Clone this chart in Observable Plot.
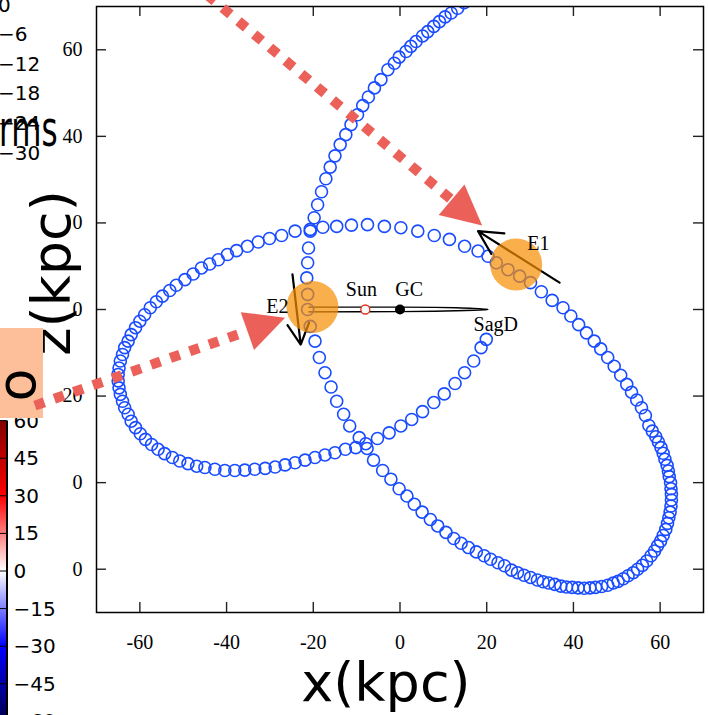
<!DOCTYPE html>
<html>
<head>
<meta charset="utf-8">
<script src="https://cdn.jsdelivr.net/npm/d3@7"></script>
<script src="https://cdn.jsdelivr.net/npm/@observablehq/plot@0.6"></script>
<style>
  html, body { margin: 0; padding: 0; background: white; }
  #fig { position: relative; width: 708px; height: 715px; overflow: hidden; }
  #fig > svg { position: absolute; left: 0; top: 0; }
</style>
</head>
<body>
<div id="fig"></div>
<script>
// Sgr orbit projected on the x–z plane (kpc), in time order
const orbitX = [14.8, 13.3, 11.8, 10.4, 9.1, 7.8, 6.4, 5.2, 3.7, 2.5,
  1.4, -0.2, -1.3, -2.8, -4.4, -5.9, -7.3, -8.6, -9.8, -11.3,
  -12.5, -13.8, -15.0, -16.1, -17.1, -18.1, -19.0, -19.8, -20.7, -21.1,
  -21.3, -21.5, -21.3, -21.3, -20.7, -19.6, -18.6, -17.3, -15.9, -14.6,
  -13.0, -11.6, -9.4, -7.6, -6.1, -4.0, -2.1, -0.2, 1.6, 3.3,
  5.1, 7.0, 8.7, 10.6, 12.4, 14.1, 15.8, 17.6, 19.4, 20.9,
  22.6, 24.1, 25.7, 27.1, 28.6, 30.1, 31.7, 33.0, 34.3, 35.7,
  37.1, 38.4, 39.7, 41.1, 42.5, 43.8, 45.1, 46.5, 47.9, 49.2,
  50.3, 51.5, 52.6, 53.8, 54.8, 55.9, 56.9, 57.9, 58.7, 59.4,
  60.1, 60.7, 61.3, 61.7, 62.0, 62.3, 62.5, 62.6, 62.6, 62.5,
  62.4, 62.1, 61.9, 61.6, 61.1, 60.7, 60.2, 59.6, 59.0, 58.2,
  57.4, 56.6, 55.7, 54.6, 53.4, 52.3, 50.9, 49.4, 47.9, 46.3,
  44.8, 43.0, 41.2, 39.4, 37.6, 35.1, 32.6, 30.1, 27.6, 24.9,
  22.2, 20.3, 18.0, 14.9, 11.4, 7.9, 4.1, 0.2, -3.6, -7.5,
  -11.2, -14.6, -17.8, -20.7, -24.2, -27.3, -30.1, -32.7, -35.2, -37.7,
  -39.8, -41.9, -43.9, -45.8, -47.7, -49.6, -51.6, -53.1, -54.8, -56.2,
  -57.6, -58.9, -60.0, -61.0, -62.0, -62.7, -63.5, -64.0, -64.5, -64.8,
  -65.0, -65.0, -64.8, -64.5, -64.0, -63.5, -62.7, -62.0, -61.0, -59.9,
  -58.7, -57.3, -55.8, -54.3, -52.5, -50.8, -48.9, -46.9, -45.0, -42.7,
  -40.4, -38.1, -35.8, -33.5, -31.1, -28.8, -26.5, -24.2, -21.9, -19.6,
  -17.3, -15.0, -12.6, -10.2, -7.9, -5.2, -2.5, 0.2, 2.7, 5.2,
  7.8, 10.2, 12.7, 14.9, 17.0, 18.7, 19.9];
const orbitZ = [70.9, 69.6, 68.5, 67.6, 66.5, 65.4, 64.2, 63.2, 61.9, 60.8,
  59.6, 58.3, 56.9, 55.4, 53.1, 51.2, 49.1, 47.1, 45.0, 42.7,
  40.4, 38.1, 35.5, 32.9, 30.2, 27.2, 24.2, 21.2, 18.1, 14.2,
  10.8, 7.3, 3.5, 0.0, -3.9, -7.3, -11.1, -14.6, -17.9, -21.2,
  -24.2, -26.9, -29.6, -32.1, -34.8, -37.2, -39.2, -41.4, -43.1, -45.0,
  -46.8, -48.5, -50.0, -51.5, -52.9, -54.0, -55.0, -56.0, -56.9, -57.7,
  -58.5, -59.2, -60.2, -60.8, -61.4, -61.9, -62.5, -62.9, -63.2, -63.5,
  -63.9, -64.1, -64.2, -64.3, -64.4, -64.3, -64.2, -64.0, -63.7, -63.2,
  -62.8, -62.2, -61.5, -60.8, -60.0, -59.1, -58.1, -56.9, -55.8, -54.6,
  -53.5, -52.2, -50.8, -49.4, -48.1, -46.8, -45.4, -44.0, -42.7, -41.4,
  -40.0, -38.6, -37.3, -36.0, -34.6, -33.2, -31.9, -30.6, -29.4, -28.1,
  -26.8, -24.5, -22.7, -20.9, -19.1, -17.3, -15.2, -13.1, -11.1, -9.1,
  -7.3, -5.4, -3.5, -1.5, 0.4, 2.1, 4.1, 6.2, 7.7, 9.2,
  10.8, 12.3, 13.5, 14.6, 16.2, 17.1, 18.1, 18.9, 19.2, 19.6,
  19.5, 19.2, 19.0, 18.5, 18.1, 17.1, 16.4, 15.6, 14.6, 13.6,
  12.7, 11.5, 10.5, 9.6, 8.2, 6.9, 5.6, 4.4, 3.1, 1.8,
  0.4, -1.2, -2.7, -4.2, -5.8, -7.3, -8.8, -10.4, -11.9, -13.5,
  -15.0, -16.5, -18.1, -19.6, -21.2, -22.7, -24.2, -25.8, -27.3, -28.7,
  -30.0, -31.2, -32.3, -33.3, -34.2, -35.0, -35.6, -36.2, -36.5, -36.9,
  -37.2, -37.2, -37.1, -36.9, -36.7, -36.4, -35.9, -35.4, -34.8, -34.2,
  -33.6, -33.1, -32.3, -31.9, -31.0, -29.8, -28.5, -26.9, -25.4, -23.6,
  -21.5, -19.5, -17.1, -14.6, -11.9, -8.8, -6.9];

// Thin needle-shaped outline between E2 and SagD (kpc)
const needleX = [-21, 0, 8, 13, 17, 19.5, 20.3, 19.5, 17, 13, 8, 0, -21];
const needleZ = [0.55, 0.55, 0.5, 0.4, 0.25, 0.08, 0, -0.06, -0.18, -0.3, -0.4, -0.5, -0.55];

// Sun and Galactic Centre
const siteNames = ["Sun", "GC"];
const siteX = [-8, 0];
const siteZ = [0, 0];

// Events E1, E2: position and direction of motion
const eventNames = ["E1", "E2"];
const eventX = [26.8, -20.2];
const eventZ = [10.4, 0.6];
const motionFromX = [36.8, -24.8];
const motionFromZ = [6.2, 8.1];
const motionToX = [18.0, -22.9];
const motionToZ = [18.1, -8.1];

// Text labels and their anchor points (kpc)
const labelNames = ["Sun", "GC", "SagD", "E1", "E2"];
const labelX = [-8.9, 2.1, 22.1, 31.9, -28.3];
const labelZ = [3.07, 3.07, -5.0, 13.7, -0.92];

// Dotted pointers: tail, start of head, tip (kpc)
const pointerTailX = [-44.5, -84.2];
const pointerTailZ = [72.7, -22.2];
const pointerBaseX = [11.6, -35.4];
const pointerBaseZ = [25.6, -5.05];
const pointerTipX = [18.95, -26.5];
const pointerTipZ = [19.4, -1.9];

// Axis ticks
const xTicks = [-60, -40, -20, 0, 20, 40, 60];
const zTicks = [-60, -40, -20, 0, 20, 40, 60];

// Colour bar tick labels
const rmsTicks = [0, -6, -12, -18, -24, -30];
const velTicks = [60, 45, 30, 15, 0, -15, -30, -45, -60];

const orbit = orbitX.map((x, i) => ({x, z: orbitZ[i]}));
const needle = needleX.map((x, i) => ({x, z: needleZ[i]}));
const sites = siteNames.map((name, i) => ({name, x: siteX[i], z: siteZ[i]}));
const events = eventNames.map((name, i) => ({
  name, x: eventX[i], z: eventZ[i],
  x1: motionFromX[i], z1: motionFromZ[i], x2: motionToX[i], z2: motionToZ[i]
}));
const labels = labelNames.map((name, i) => ({name, x: labelX[i], z: labelZ[i]}));
const pointers = pointerTailX.map((x1, i) => ({
  x1, z1: pointerTailZ[i], xb: pointerBaseX[i], zb: pointerBaseZ[i],
  x2: pointerTipX[i], z2: pointerTipZ[i]
}));

const W = 708, H = 715;
const frame = {width: W, height: H, marginLeft: 96, marginRight: 5, marginTop: 6, marginBottom: 103};
const innerW = W - frame.marginLeft - frame.marginRight;
const innerH = H - frame.marginTop - frame.marginBottom;
const serif = '"Liberation Serif", "Times New Roman", serif';
const pointerRed = "#ec605a";

const mainPlot = Plot.plot({
  ...frame,
  x: {domain: [-70, 70]},
  y: {domain: [-70, 70]},
  style: {fontFamily: serif, fontSize: "20px", background: "transparent", color: "black"},
  marks: [
    Plot.line(needle, {x: "x", y: "z", curve: "catmull-rom", stroke: "black", strokeWidth: 1.4}),
    Plot.dot(orbit, {x: "x", y: "z", r: 6, stroke: "#1a4cff", strokeWidth: 1.6, fill: "none", clip: true}),
    Plot.dot(sites.filter(d => d.name === "Sun"), {x: "x", y: "z", r: 4.5, fill: "white", stroke: "#e2321e", strokeWidth: 1.3}),
    Plot.dot(sites.filter(d => d.name === "GC"), {x: "x", y: "z", r: 5, fill: "black", stroke: "none"}),
    Plot.arrow(events, {x1: "x1", y1: "z1", x2: "x2", y2: "z2", stroke: "black", strokeWidth: 2.2, headLength: 18, headAngle: 55}),
    Plot.dot(events, {x: "x", y: "z", r: 26, fill: "#f58d00", fillOpacity: 0.7, stroke: "none"}),
    Plot.text(labels, {x: "x", y: "z", text: "name", textAnchor: "middle", lineAnchor: "bottom", fontSize: 20, fill: "black"}),
    // inward ticks on all four sides
    Plot.tickX(xTicks, {x: d => d, insetTop: innerH - 10, stroke: "#222", strokeWidth: 1.4}),
    Plot.tickX(xTicks, {x: d => d, insetBottom: innerH - 10, stroke: "#222", strokeWidth: 1.4}),
    Plot.tickY(zTicks, {y: d => d, insetRight: innerW - 10, stroke: "#222", strokeWidth: 1.4}),
    Plot.tickY(zTicks, {y: d => d, insetLeft: innerW - 10, stroke: "#222", strokeWidth: 1.4}),
    Plot.axisX({anchor: "bottom", ticks: xTicks, tickSize: 0, tickPadding: 22, tickFormat: d => String(d), label: null}),
    Plot.axisY({anchor: "left", ticks: zTicks, tickSize: 0, tickPadding: 14, tickFormat: d => String(d), label: null}),
    Plot.frame({stroke: "black", strokeWidth: 1.5})
  ]
});

// Side panels: colour bars and large axis titles
const side = d3.create("svg").attr("width", W).attr("height", H);
const sans = '"DejaVu Sans", sans-serif';

// upper colour bar tick labels
const rmsY = d3.scaleLinear().domain([0, -30]).range([4.5, 152.5]);
side.append("g").selectAll("text").data(rmsTicks).join("text")
  .attr("x", -2).attr("y", d => rmsY(d)).attr("dominant-baseline", "central")
  .attr("font-family", sans).attr("font-size", 20)
  .text(d => d3.format("d")(d));
side.append("text")
  .attr("transform", "translate(-1,146) scale(0.62,1)")
  .attr("font-family", sans).attr("font-size", 50)
  .text("rms");

// z axis title
side.append("rect").attr("x", 0).attr("y", 172).attr("width", 72.5).attr("height", 156).attr("fill", "white");
side.append("text")
  .attr("transform", "translate(70,273) rotate(-90)")
  .attr("text-anchor", "middle").attr("font-family", sans).attr("font-size", 54)
  .text("z(kpc)");

// lower colour bar (seismic, −60…60)
side.append("rect").attr("x", 0).attr("y", 418).attr("width", 72.5).attr("height", 297).attr("fill", "white");
const grad = side.append("defs").append("linearGradient").attr("id", "seismic")
  .attr("x1", 0).attr("y1", 0).attr("x2", 0).attr("y2", 1);
[[0, "#800000"], [0.25, "#ff0000"], [0.5, "#ffffff"], [0.75, "#0000ff"], [1, "#00004d"]]
  .forEach(([o, c]) => grad.append("stop").attr("offset", o).attr("stop-color", c));
const velY = d3.scaleLinear().domain([60, -60]).range([420.6, 721.4]);
side.append("rect").attr("x", -10).attr("y", velY(60)).attr("width", 16.5)
  .attr("height", velY(-60) - velY(60)).attr("fill", "url(#seismic)");
side.append("line").attr("x1", 7).attr("x2", 7).attr("y1", velY(60)).attr("y2", velY(-60))
  .attr("stroke", "black").attr("stroke-width", 2);
side.append("g").selectAll("line").data(velTicks).join("line")
  .attr("x1", 0).attr("x2", 6.5).attr("y1", d => velY(d)).attr("y2", d => velY(d))
  .attr("stroke", "black").attr("stroke-width", 1);
side.append("g").selectAll("text").data(velTicks).join("text")
  .attr("x", 13.5).attr("y", d => velY(d)).attr("dominant-baseline", "central")
  .attr("font-family", sans).attr("font-size", 20)
  .text(d => d3.format("d")(d));

// tinted title box
side.append("rect").attr("x", 0).attr("y", 328).attr("width", 43).attr("height", 90).attr("fill", "#fcbf9a");
side.append("text")
  .attr("transform", "translate(35,385) rotate(-90)")
  .attr("text-anchor", "middle").attr("font-family", sans).attr("font-size", 54)
  .text("o");

// x axis title
side.append("text").attr("x", 386).attr("y", 701)
  .attr("text-anchor", "middle").attr("font-family", sans).attr("font-size", 54)
  .text("x(kpc)");

// Dotted pointer arrows, drawn on top of everything
const headSymbol = {
  draw(context, size) {
    const r = Math.sqrt(size / Math.PI);
    context.moveTo(0, 0);
    context.lineTo(r, 2 * r);
    context.lineTo(-r, 2 * r);
    context.closePath();
  }
};
const pointerLayer = Plot.plot({
  ...frame,
  x: {domain: [-70, 70], axis: null},
  y: {domain: [-70, 70], axis: null},
  style: {background: "transparent"},
  marks: [
    Plot.link(pointers, {x1: "x1", y1: "z1", x2: "xb", y2: "zb", stroke: pointerRed,
      strokeWidth: 10, strokeDasharray: "10,10.5", strokeLinecap: "butt"}),
    Plot.dot(pointers, {x: "x2", y: "z2", r: 20, symbol: headSymbol, fill: pointerRed, stroke: "none",
      rotate: d => Math.atan2(d.x2 - d.xb, d.z2 - d.zb) * 180 / Math.PI})
  ]
});

const fig = document.getElementById("fig");
fig.append(mainPlot);
fig.append(side.node());
fig.append(pointerLayer);
</script>
</body>
</html>
